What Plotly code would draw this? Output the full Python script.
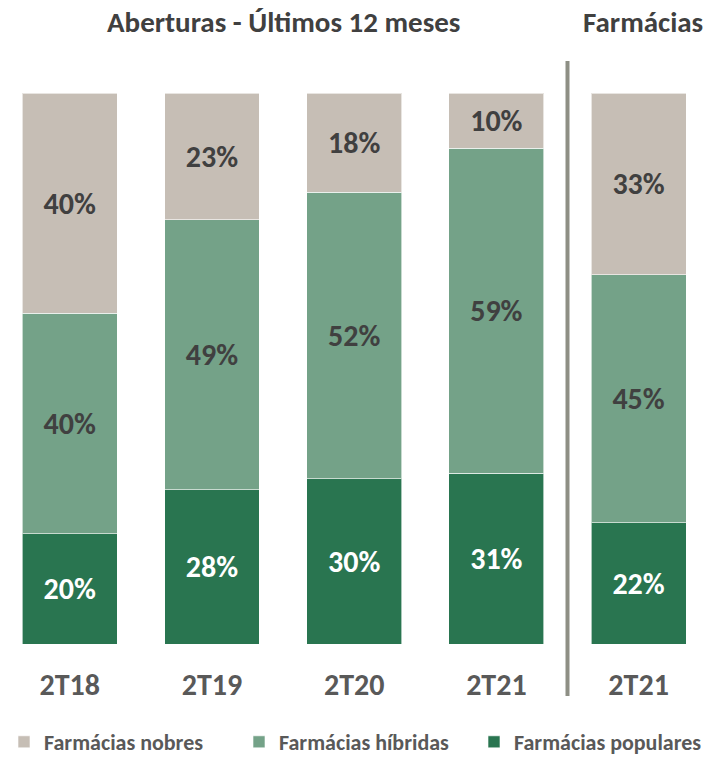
import plotly.graph_objects as go

categories = ["2T18", "2T19", "2T20", "2T21", "2T21"]
populares = [20, 28, 30, 31, 22]
hibridas = [40, 49, 52, 59, 45]
nobres = [40, 23, 18, 10, 33]
series_names = ["Farmácias populares", "Farmácias híbridas", "Farmácias nobres"]
colors = ["#297550", "#74A288", "#C6BEB5"]
text_colors = ["#FFFFFF", "#404040", "#404040"]
titles = ["Aberturas - Últimos 12 meses", "Farmácias"]

FONT = "Carlito, Lato, 'Open Sans', sans-serif"
W, H = 713, 763
PLOT_TOP, PLOT_BOT = 93, 644
ph = PLOT_BOT - PLOT_TOP

def py(p):
    return (PLOT_BOT - p) / ph

def px(p):
    return p / W

s = 142.2
x0 = -69.8 / s
x1 = x0 + W / s

x = list(range(len(categories)))
fig = go.Figure()
for name, vals, col, tcol in zip(series_names, [populares, hibridas, nobres], colors, text_colors):
    fig.add_trace(go.Bar(
        x=x, y=vals, name=name,
        marker=dict(color=col, line=dict(color="rgba(255,255,255,0.6)", width=1)),
        width=0.668,
        text=[f"{v}%" for v in vals],
        textposition="inside", insidetextanchor="middle", textangle=0,
        constraintext="none",
        textfont=dict(family=FONT, size=30, color=tcol, weight="bold"),
        hoverinfo="skip",
    ))

fig.add_shape(type="line", xref="x", yref="paper", x0=3.5, x1=3.5,
              y0=py(696), y1=py(61), line=dict(color="#8E8F85", width=4))

fig.add_annotation(text=f"<b>{titles[0]}</b>", xref="paper", yref="paper",
                   x=px(283), y=py(22), xanchor="center", yanchor="middle",
                   showarrow=False, font=dict(family=FONT, size=29, color="#404040"))
fig.add_annotation(text=f"<b>{titles[1]}</b>", xref="paper", yref="paper",
                   x=px(643), y=py(22), xanchor="center", yanchor="middle",
                   showarrow=False, font=dict(family=FONT, size=29, color="#404040"))

fig.update_layout(
    width=W, height=H,
    margin=dict(l=0, r=0, t=PLOT_TOP, b=H - PLOT_BOT, autoexpand=False),
    barmode="stack",
    plot_bgcolor="white", paper_bgcolor="white",
    showlegend=True,
    legend=dict(orientation="h", traceorder="reversed", x=px(4), xanchor="left",
                y=py(763), yanchor="bottom", entrywidth=190, entrywidthmode="pixels",
                font=dict(family=FONT, size=22, color="#595959", weight="bold"),
                itemclick=False, itemdoubleclick=False),
    xaxis=dict(range=[x0, x1], tickvals=x, ticktext=categories,
               showgrid=False, zeroline=False, showline=False, ticks="",
               ticklabelstandoff=20,
               tickfont=dict(family=FONT, size=30, color="#595959", weight="bold")),
    yaxis=dict(range=[0, 100], visible=False, showgrid=False, zeroline=False),
)

fig.write_html("out.html", config={"displayModeBar": False},
               post_script="document.body.style.margin='0';document.body.style.overflow='hidden';")
